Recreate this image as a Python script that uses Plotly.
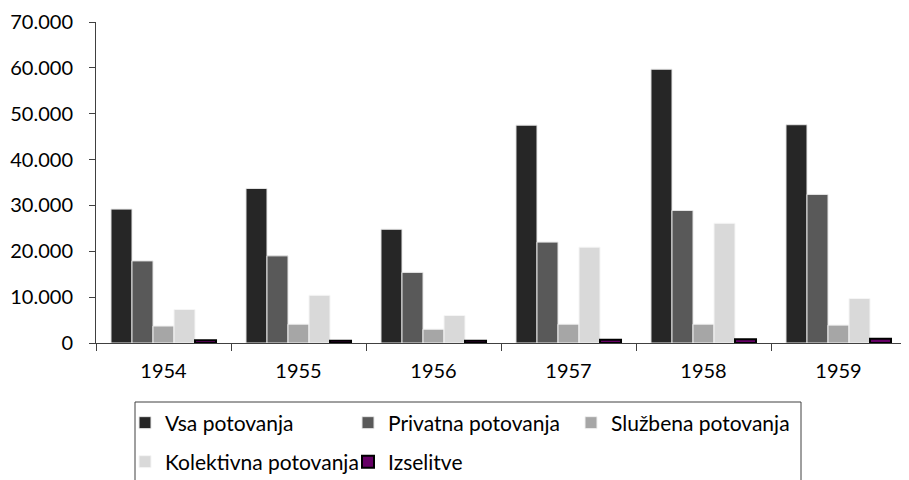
import plotly.graph_objects as go

years = ["1954", "1955", "1956", "1957", "1958", "1959"]
vsa = [29200, 33700, 24800, 47500, 59700, 47600]
privatna = [17900, 19000, 15400, 22000, 28900, 32400]
sluzbena = [3700, 4100, 3000, 4100, 4100, 3900]
kolektivna = [7300, 10400, 6000, 20900, 26100, 9700]
izselitve = [600, 500, 500, 700, 800, 900]

series_names = ["Vsa potovanja", "Privatna potovanja", "Službena potovanja",
                "Kolektivna potovanja", "Izselitve"]
series_values = [vsa, privatna, sluzbena, kolektivna, izselitve]
fill_colors = ["#262626", "#595959", "#a6a6a6", "#d9d9d9", "#660066"]
line_colors = ["#e6e6e6", "#e6e6e6", "#f0f0f0", "#f5f5f5", "#000000"]
line_widths = [1, 1, 1, 1, 2]
legend_ids = ["legend", "legend", "legend", "legend2", "legend2"]

FONT = "Lato"
fig = go.Figure()
for name, vals, fc, lc, lw, lg in zip(series_names, series_values, fill_colors,
                                       line_colors, line_widths, legend_ids):
    fig.add_trace(go.Bar(x=years, y=vals, name=name, legend=lg,
                         marker=dict(color=fc, line=dict(color=lc, width=lw))))

# the page body adds an 8px offset; lay out in window pixels and compensate
OFF = 8
W, H = 909 - OFF, 480 - OFF
# plot area in window pixels: x 96..906, y 22..343
L, R, T, B = 96 - OFF, 909 - 906, 22 - OFF, 480 - 343
pw, ph = W - L - R, H - T - B

def px_x(p):
    return (p - OFF - L) / pw

def px_y(p):
    return (H - B - (p - OFF)) / ph

fig.update_layout(
    width=W, height=H,
    margin=dict(l=L, r=R, t=T, b=B, autoexpand=False),
    paper_bgcolor="white", plot_bgcolor="white",
    separators=",.",
    font=dict(family=FONT, size=20, color="#000000"),
    barmode="group", bargap=0.222, bargroupgap=0,
    showlegend=True,
    legend=dict(orientation="h", x=px_x(125), xanchor="left",
                y=px_y(423), yanchor="middle", entrywidth=178,
                font=dict(family=FONT, size=21), bgcolor="rgba(0,0,0,0)"),
    legend2=dict(orientation="h", x=px_x(125), xanchor="left",
                 y=px_y(462), yanchor="middle", entrywidth=178,
                 font=dict(family=FONT, size=21), bgcolor="rgba(0,0,0,0)"),
    xaxis=dict(type="category", showline=True, linecolor="#404040", linewidth=1,
               ticks="outside", tickson="boundaries", ticklen=7,
               tickcolor="#404040", showgrid=False, ticklabelstandoff=10,
               tickfont=dict(family=FONT, size=20)),
    yaxis=dict(range=[0, 70000], dtick=10000, tickformat=",d",
               showline=True, linecolor="#404040", linewidth=1,
               ticks="outside", ticklen=6, tickcolor="#404040",
               showgrid=False, zeroline=False, ticklabelstandoff=12,
               tickfont=dict(family=FONT, size=20)),
    shapes=[dict(type="rect", xref="paper", yref="paper",
                 x0=px_x(135), x1=px_x(801), y0=px_y(402), y1=px_y(495),
                 line=dict(color="#404040", width=1), fillcolor="rgba(0,0,0,0)",
                 layer="above")],
)

fig.write_html("out.html")
